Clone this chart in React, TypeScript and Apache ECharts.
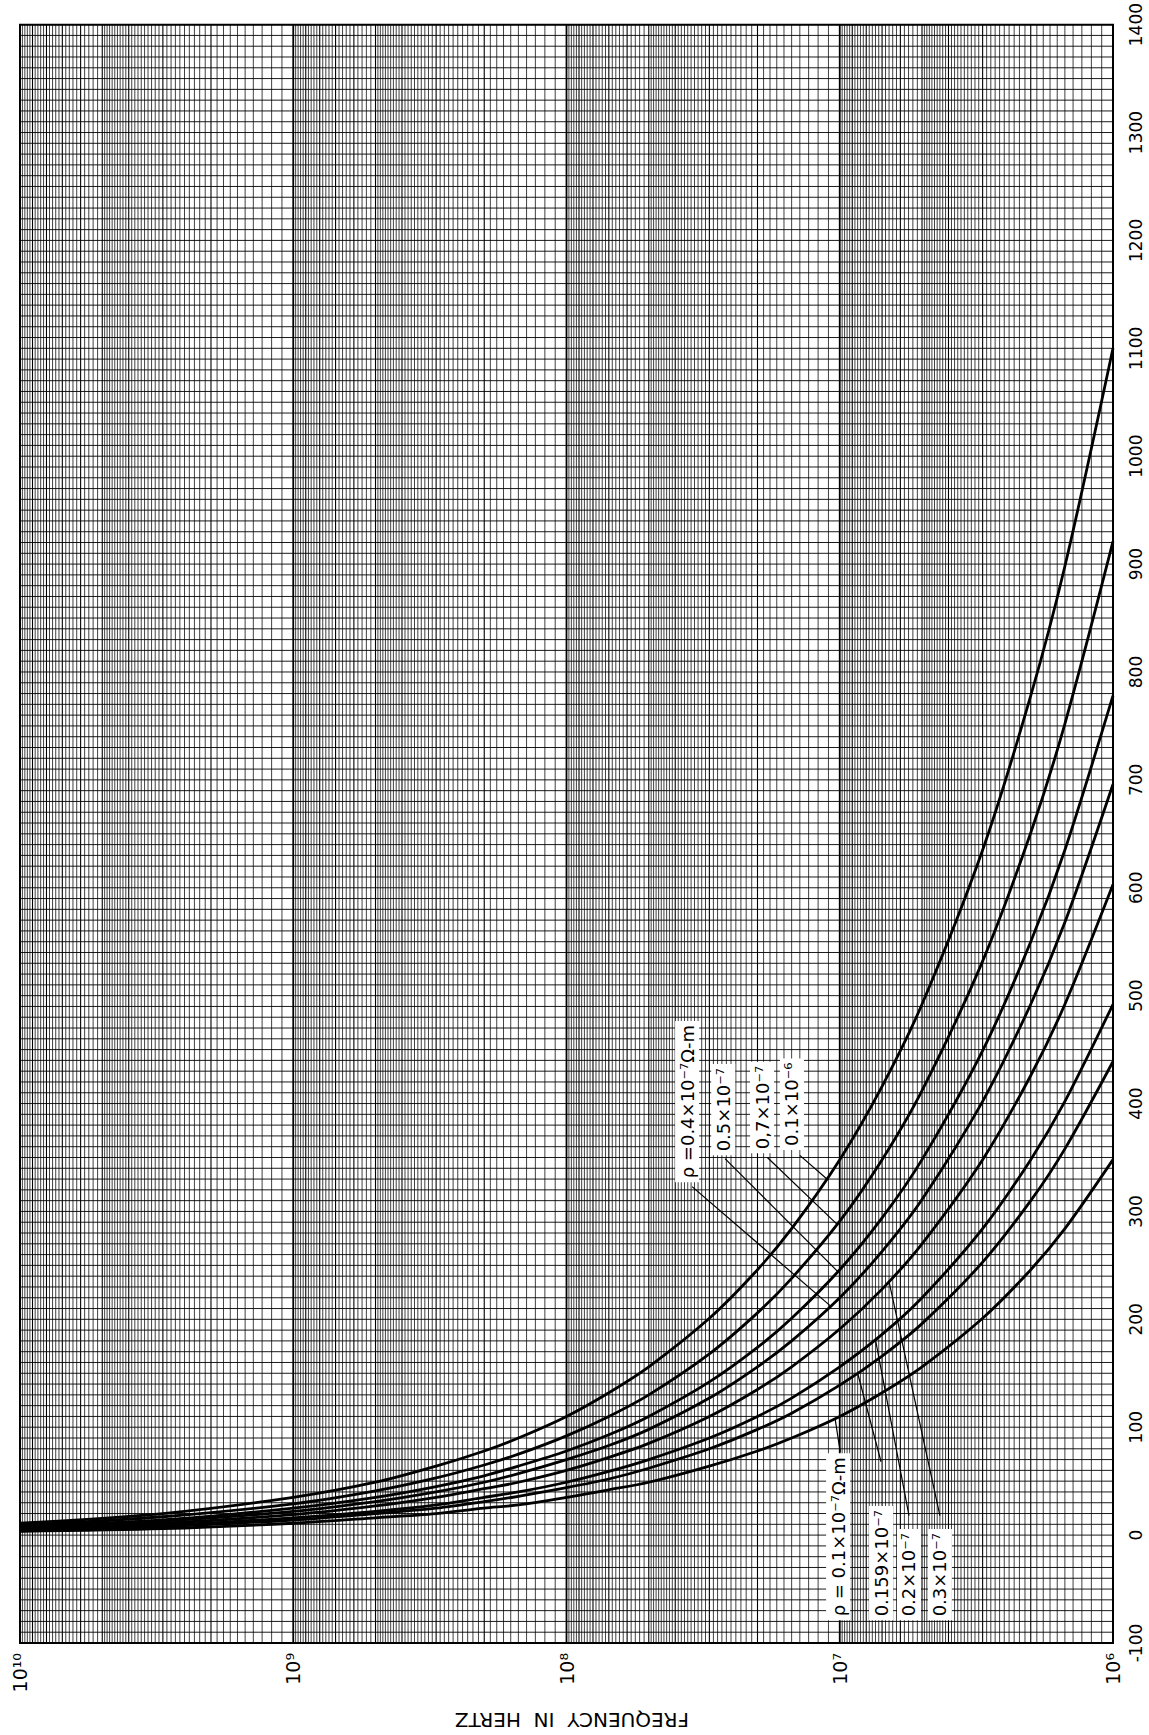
import React, { useEffect, useRef } from "react";
import * as echarts from "echarts";

// Frequencies (Hz) at which the curves were read
const frequencies = [1e6, 1.5e6, 2e6, 3e6, 5e6, 7e6, 1e7, 1.5e7, 2e7, 3e7, 5e7, 7e7, 1e8, 1.5e8, 2e8, 3e8, 5e8, 1e9, 3e9, 1e10];

// Curve values, one array per resistivity
const rho_0_1e6 = [1100, 898, 778, 635, 492, 416, 348, 284, 246, 201, 156, 132, 110, 90, 78, 64, 49, 35, 20, 11];
const rho_0_7e7 = [921, 752, 651, 532, 412, 348, 291, 238, 206, 168, 130, 110, 92, 75, 65, 53, 41, 29, 17, 9];
const rho_0_5e7 = [778, 635, 550, 449, 348, 294, 246, 201, 174, 142, 110, 93, 78, 64, 55, 45, 35, 25, 14, 8];
const rho_0_4e7 = [696, 568, 492, 402, 311, 263, 220, 180, 156, 127, 98, 83, 70, 57, 49, 40, 31, 22, 13, 7];
const rho_0_3e7 = [603, 492, 426, 348, 270, 228, 191, 156, 135, 110, 85, 72, 60, 49, 43, 35, 27, 19, 11, 6];
const rho_0_2e7 = [492, 402, 348, 284, 220, 186, 156, 127, 110, 90, 70, 59, 49, 40, 35, 28, 22, 16, 9, 5];
const rho_0_159e7 = [439, 358, 310, 253, 196, 166, 139, 113, 98, 80, 62, 52, 44, 36, 31, 25, 20, 14, 8, 4];
const rho_0_1e7 = [348, 284, 246, 201, 156, 132, 110, 90, 78, 64, 49, 42, 35, 28, 25, 20, 16, 11, 6, 3.5];

const curveNames = ["0.1×10⁻⁶", "0.7×10⁻⁷", "0.5×10⁻⁷", "0.4×10⁻⁷", "0.3×10⁻⁷", "0.2×10⁻⁷", "0.159×10⁻⁷", "0.1×10⁻⁷"];
const curveValues = [rho_0_1e6, rho_0_7e7, rho_0_5e7, rho_0_4e7, rho_0_3e7, rho_0_2e7, rho_0_159e7, rho_0_1e7];

// Axis ranges / tick labels
const yMin = -100;
const yMax = 1400;
const yStep = 100;
const fMin = 1e6;
const fMax = 1e10;
const axisTitle = "FREQUENCY  IN  HERTZ";

// Curve annotations: text, then [f text, v text, f leader start, v leader start, f leader end, v leader end]
const labelTexts = ["ρ =0.4×10⁻⁷Ω-m", "0.5×10⁻⁷", "0,7×10⁻⁷", "0.1×10⁻⁶", "ρ = 0.1×10⁻⁷Ω-m", "0.159×10⁻⁷", "0.2×10⁻⁷", "0.3×10⁻⁷"];
const labelAnchors = [
  [3.62e7, 327, 3.47e7, 323, 1.077e7, 212],
  [2.67e7, 352, 2.63e7, 349, 1.014e7, 244],
  [1.925e7, 354, 1.84e7, 350, 1.022e7, 288],
  [1.496e7, 357, 1.4e7, 352, 1.114e7, 330],
  [1.014e7, -79, 9.96e6, 77, 1.04e7, 108],
  [7.06e6, -79, 7.06e6, 68, 8.6e6, 150],
  [5.58e6, -79, 5.58e6, 18, 7.4e6, 181],
  [4.3e6, -79, 4.3e6, 18, 6.6e6, 235],
];

const SUP: Record<string, string> = { "0": "⁰", "1": "¹", "2": "²", "3": "³", "4": "⁴", "5": "⁵", "6": "⁶", "7": "⁷", "8": "⁸", "9": "⁹", "-": "⁻" };
const sup = (s: string) => s.split("").map((c) => SUP[c] || c).join("");

const FONT = '"DejaVu Sans", "Liberation Sans", sans-serif';

export default function App() {
  const ref = useRef<HTMLDivElement>(null);

  useEffect(() => {
    if (!ref.current) return;
    const chart = echarts.init(ref.current, undefined, { renderer: "svg" });

    // log-paper ruling
    const mantissas: number[] = [];
    for (let i = 10; i < 20; i++) mantissas.push(i / 10);
    for (let i = 20; i < 50; i++) mantissas.push(i / 10);
    for (let i = 50; i < 100; i += 2) mantissas.push(i / 10);
    const gridData: number[][] = [];
    for (let d = 6; d < 10; d++) {
      for (const m of mantissas) {
        const w = m === 1 ? 1.8 : Number.isInteger(m) ? 1.1 : 0.75;
        gridData.push([m * Math.pow(10, d), 0, 0, w]);
      }
    }
    for (let v = yMin; v <= yMax; v += 10) {
      gridData.push([1e8, v, 1, 0.9]);
    }

    const curveSeries = curveValues.map((vals, k) => ({
      type: "line",
      name: curveNames[k],
      data: frequencies.map((f, i) => [f, vals[i]]),
      smooth: 0.3,
      showSymbol: false,
      symbol: "none",
      silent: true,
      z: 3,
      lineStyle: { color: "#000", width: 2.8 },
    }));

    chart.setOption({
      animation: false,
      backgroundColor: "#fff",
      grid: { left: 20, right: 36, top: 22, bottom: 92, show: true, borderColor: "#000", borderWidth: 2, backgroundColor: "#fff" },
      xAxis: {
        type: "log",
        logBase: 10,
        min: fMin,
        max: fMax,
        inverse: true,
        axisLine: { show: false },
        axisTick: { show: false },
        splitLine: { show: false },
        axisLabel: {
          rotate: 90,
          margin: 10,
          fontSize: 19,
          fontFamily: FONT,
          color: "#000",
          formatter: (v: number) => "10" + sup(String(Math.round(Math.log10(v)))),
        },
      },
      yAxis: {
        type: "value",
        position: "right",
        min: yMin,
        max: yMax,
        interval: yStep,
        axisLine: { show: false },
        axisTick: { show: false },
        splitLine: { show: false },
        axisLabel: { rotate: 90, margin: 14, fontSize: 17, fontFamily: FONT, color: "#000", formatter: (v: number) => String(v) },
      },
      graphic: [
        {
          type: "text",
          x: 572,
          y: 1720,
          rotation: Math.PI,
          style: {
            text: axisTitle,
            font: '20px ' + FONT,
            fill: "#000",
            align: "center",
            verticalAlign: "middle",
            textAlign: "center",
            textVerticalAlign: "middle",
          },
        },
      ],
      series: [
        {
          type: "custom",
          silent: true,
          z: 1,
          encode: { x: 0, y: 1 },
          data: gridData,
          renderItem: (params: any, api: any) => {
            const kind = api.value(2);
            const w = api.value(3);
            let p1, p2;
            if (kind === 0) {
              const f = api.value(0);
              p1 = api.coord([f, yMin]);
              p2 = api.coord([f, yMax]);
            } else {
              const v = api.value(1);
              p1 = api.coord([fMin, v]);
              p2 = api.coord([fMax, v]);
            }
            return {
              type: "line",
              silent: true,
              shape: { x1: p1[0], y1: p1[1], x2: p2[0], y2: p2[1] },
              style: { stroke: "#000", lineWidth: w },
            };
          },
        },
        ...curveSeries,
        {
          type: "custom",
          silent: true,
          z: 5,
          encode: { x: 0, y: 1 },
          data: labelAnchors,
          renderItem: (params: any, api: any) => {
            const t = api.coord([api.value(0), api.value(1)]);
            const a = api.coord([api.value(2), api.value(3)]);
            const b = api.coord([api.value(4), api.value(5)]);
            return {
              type: "group",
              children: [
                {
                  type: "line",
                  shape: { x1: a[0], y1: a[1], x2: b[0], y2: b[1] },
                  style: { stroke: "#000", lineWidth: 1.2 },
                },
                {
                  type: "text",
                  x: t[0],
                  y: t[1],
                  rotation: Math.PI / 2,
                  style: {
                    text: labelTexts[params.dataIndex],
                    font: '18px ' + FONT,
                    fill: "#000",
                    align: "left",
                    verticalAlign: "middle",
                    textAlign: "left",
                    textVerticalAlign: "middle",
                    backgroundColor: "#fff",
                    padding: [3, 4, 3, 4],
                  },
                },
              ],
            };
          },
        },
      ],
    });

    return () => chart.dispose();
  }, []);

  return <div ref={ref} style={{ position: "absolute", left: 0, top: 0, width: 1149, height: 1735, background: "#fff" }} />;
}
